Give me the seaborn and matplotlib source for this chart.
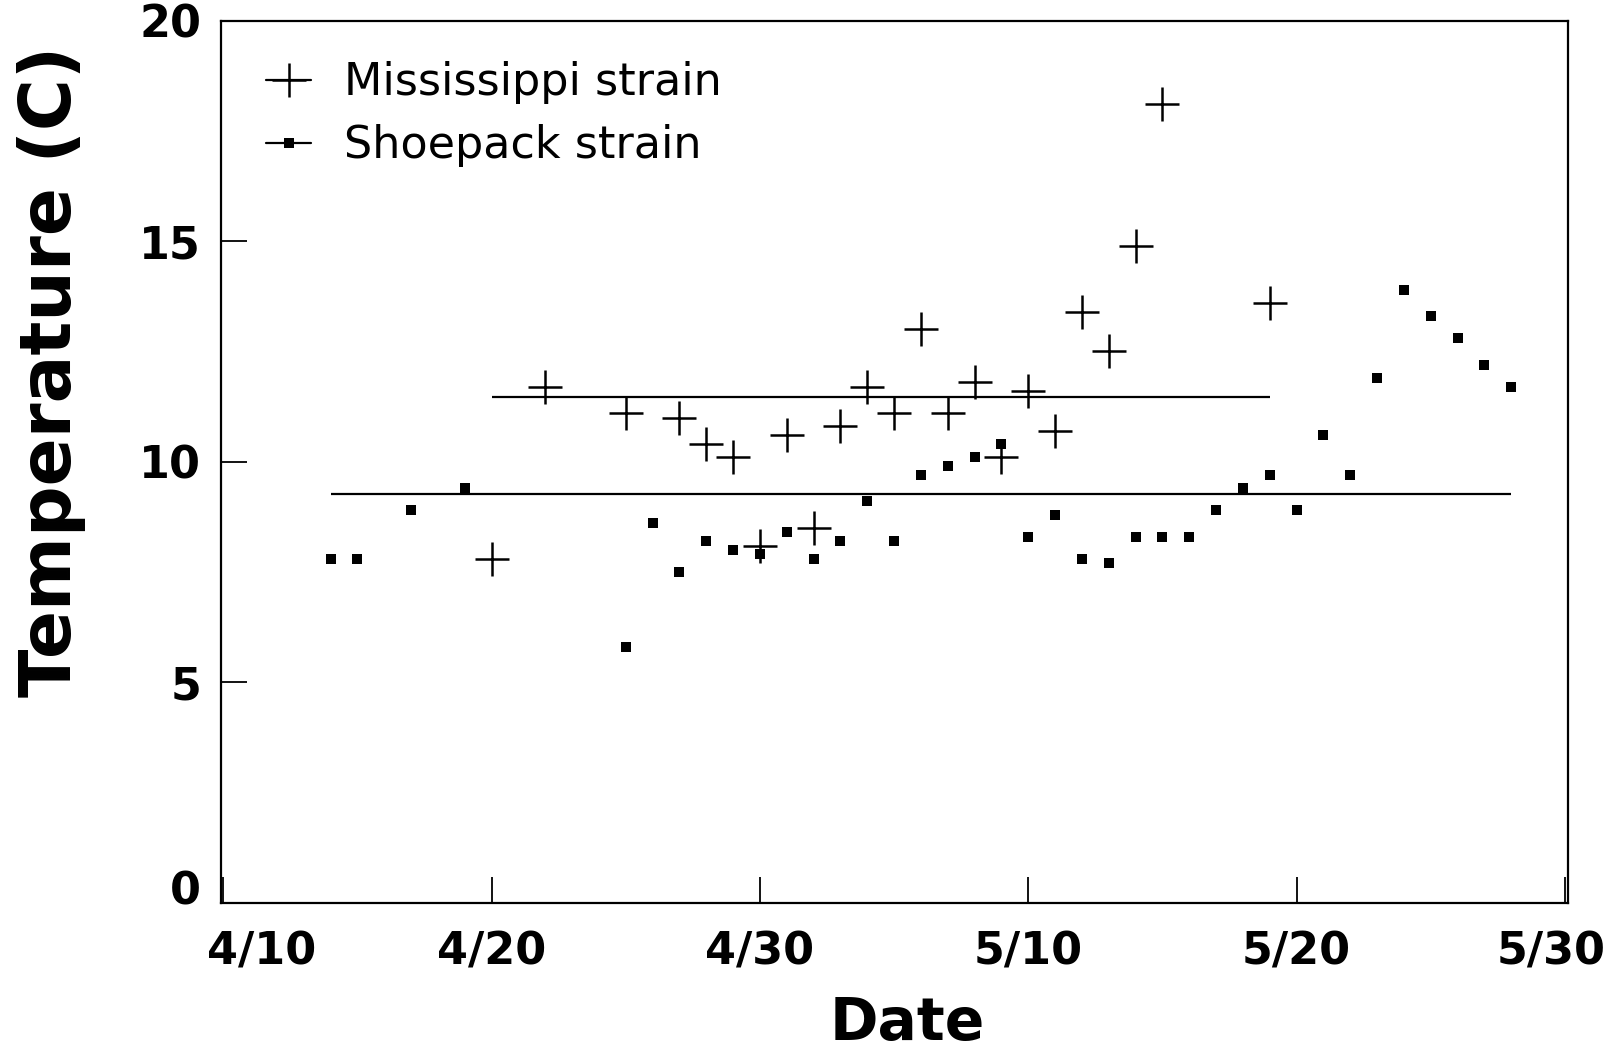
import matplotlib
matplotlib.use('Agg')
import matplotlib.pyplot as plt
import matplotlib.transforms as mtransforms
import seaborn as sns
import numpy as np
import pandas as pd
from matplotlib.lines import Line2D

# Dados (mes/dia, temperatura em C)
miss_dates = ['4/20', '4/22', '4/25', '4/27', '4/28', '4/29', '4/30', '5/1', '5/2', '5/3',
              '5/4', '5/5', '5/6', '5/7', '5/8', '5/9', '5/10', '5/11', '5/12', '5/13',
              '5/14', '5/15', '5/19']
miss_temp = [7.8, 11.7, 11.1, 11.0, 10.4, 10.1, 8.1, 10.6, 8.5, 10.8,
             11.7, 11.1, 13.0, 11.1, 11.8, 10.1, 11.6, 10.7, 13.4, 12.5,
             14.9, 18.1, 13.6]

shoe_dates = ['4/14', '4/15', '4/17', '4/19', '4/25', '4/26', '4/27', '4/28', '4/29', '4/30',
              '5/1', '5/2', '5/3', '5/4', '5/5', '5/6', '5/7', '5/8', '5/9', '5/10',
              '5/11', '5/12', '5/13', '5/14', '5/15', '5/16', '5/17', '5/18', '5/19', '5/20',
              '5/21', '5/22', '5/23', '5/24', '5/25', '5/26', '5/27', '5/28']
shoe_temp = [7.8, 7.8, 8.9, 9.4, 5.8, 8.6, 7.5, 8.2, 8.0, 7.9,
             8.4, 7.8, 8.2, 9.1, 8.2, 9.7, 9.9, 10.1, 10.4, 8.3,
             8.8, 7.8, 7.7, 8.3, 8.3, 8.3, 8.9, 9.4, 9.7, 8.9,
             10.6, 9.7, 11.9, 13.9, 13.3, 12.8, 12.2, 11.7]

x_ticks = ['4/10', '4/20', '4/30', '5/10', '5/20', '5/30']
y_ticks = [0, 5, 10, 15, 20]


def to_day(s):
    # dias contados a partir do fim de marco (abril tem 30 dias)
    m, d = s.split('/')
    return (int(m) - 4) * 30 + int(d)


miss = pd.DataFrame({'day': [to_day(s) for s in miss_dates], 'temp': miss_temp})
shoe = pd.DataFrame({'day': [to_day(s) for s in shoe_dates], 'temp': shoe_temp})

sns.set_theme(style='white')
plt.rcParams['font.family'] = ['DejaVu Sans']
plt.rcParams['text.color'] = 'black'

fig = plt.figure(figsize=(16.16, 10.61), dpi=100)
ax = fig.add_axes([0.1365, 0.1491, 0.8335, 0.8314])

# pontos
sns.scatterplot(data=miss, x='day', y='temp', marker='+', s=600, color='black',
                linewidth=1.8, ax=ax)
sns.scatterplot(data=shoe, x='day', y='temp', marker='s', s=55, color='black',
                linewidth=0, ax=ax)

# linhas das medias
ax.hlines(miss['temp'].mean(), miss['day'].min(), miss['day'].max(), color='black', lw=1.6)
ax.hlines(shoe['temp'].mean(), shoe['day'].min(), shoe['day'].max(), color='black', lw=1.6)

# eixos
ax.set_xlim(9.9, 60.1)
ax.set_ylim(0, 20)
ax.set_xticks([to_day(s) for s in x_ticks])
ax.set_xticklabels(x_ticks)
ax.set_yticks(y_ticks)
ax.set_yticklabels([str(v) for v in y_ticks])
ax.tick_params(axis='both', direction='in', length=19, width=1.3, color='black',
               labelsize=32, labelcolor='black', bottom=True, left=True)
ax.tick_params(axis='x', pad=20)
ax.tick_params(axis='y', pad=14)
for lab in ax.get_xticklabels() + ax.get_yticklabels():
    lab.set_fontweight('bold')
for sp in ax.spines.values():
    sp.set_color('black')
    sp.set_linewidth(1.6)

# pequenos deslocamentos dos rotulos das pontas, como no original
xl = ax.get_xticklabels()
yl = ax.get_yticklabels()
xl[0].set_transform(xl[0].get_transform() + mtransforms.ScaledTranslation(0.38, 0, fig.dpi_scale_trans))
xl[-1].set_transform(xl[-1].get_transform() + mtransforms.ScaledTranslation(-0.14, 0, fig.dpi_scale_trans))
yl[0].set_transform(yl[0].get_transform() + mtransforms.ScaledTranslation(0, 0.15, fig.dpi_scale_trans))

ax.set_xlabel('Date', fontsize=42, fontweight='bold', color='black')
ax.set_ylabel('Temperature (C)', fontsize=51, fontweight='bold', color='black')
ax.xaxis.set_label_coords(0.51, -0.104)
ax.yaxis.set_label_coords(-0.0998, 0.603)

# legenda
handles = [
    Line2D([], [], color='black', lw=1.6, marker='+', markersize=24, mew=1.8),
    Line2D([], [], color='black', lw=1.6, marker='s', markersize=7, mew=0),
]
leg = ax.legend(handles, ['Mississippi strain', 'Shoepack strain'], loc='upper left',
                bbox_to_anchor=(0.034, 0.954), borderaxespad=0, borderpad=0,
                frameon=False, handlelength=1.0, handletextpad=0.75, labelspacing=0.45,
                prop={'family': ['DejaVu Sans'], 'size': 32})
for t in leg.get_texts():
    t.set_color('black')

fig.savefig('out.png', dpi=100)
